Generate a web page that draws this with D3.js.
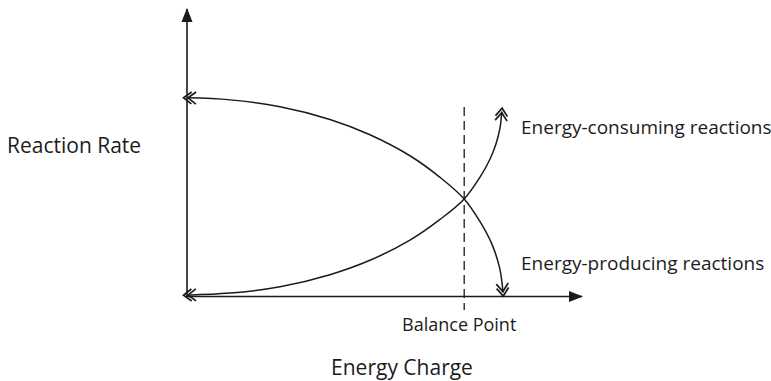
<!DOCTYPE html>
<html>
<head>
<meta charset="utf-8">
<script src="https://cdn.jsdelivr.net/npm/d3@7/dist/d3.min.js"></script>
<style>
  html, body { margin: 0; padding: 0; background: #fff; }
  svg { display: block; }
  text { font-family: "Open Sans", "Noto Sans", sans-serif; fill: #1c1c1c; }
</style>
</head>
<body>
<script>
// Energy charge (0..1) vs. relative reaction rate (0..1)
const producingCharge = [0, 0.109, 0.235, 0.361, 0.462, 0.563, 0.639, 0.7, 0.740, 0.770, 0.790, 0.798];
const producingRate   = [0.688, 0.681, 0.657, 0.613, 0.560, 0.487, 0.412, 0.337, 0.258, 0.180, 0.094, 0.012];

const consumingCharge = [0, 0.109, 0.235, 0.361, 0.462, 0.563, 0.639, 0.7, 0.740, 0.765, 0.780, 0.790, 0.795];
const consumingRate   = [0.003, 0.010, 0.032, 0.074, 0.124, 0.194, 0.266, 0.337, 0.413, 0.475, 0.527, 0.580, 0.640];

const balanceCharge = 0.7;
const balanceSpan = [0.656, -0.049];

const seriesLabels = ["Energy-consuming reactions", "Energy-producing reactions"];
const axisLabels = { y: "Reaction Rate", x: "Energy Charge" };
const balanceLabel = "Balance Point";

const W = 771, H = 381;
const ink = "#1b1b1b";

const x = d3.scaleLinear().domain([0, 1]).range([187, 583]);
const y = d3.scaleLinear().domain([0, 1]).range([296, 8]);

const svg = d3.select("body").append("svg")
  .attr("width", W).attr("height", H)
  .attr("viewBox", `0 0 ${W} ${H}`);

svg.append("rect").attr("width", W).attr("height", H).attr("fill", "#fff");

const defs = svg.append("defs");

// solid arrowhead for the axes
defs.append("marker")
  .attr("id", "axisHead")
  .attr("markerUnits", "userSpaceOnUse")
  .attr("viewBox", "-14 -7 16 14")
  .attr("refX", 0).attr("refY", 0)
  .attr("markerWidth", 16).attr("markerHeight", 14)
  .attr("orient", "auto")
  .append("path")
  .attr("d", "M1,0 L-13,-5.5 L-13,5.5 Z")
  .attr("fill", ink);

// double open chevron for the curve ends
defs.append("marker")
  .attr("id", "chevrons")
  .attr("markerUnits", "userSpaceOnUse")
  .attr("viewBox", "-14 -9 20 18")
  .attr("refX", 0).attr("refY", 0)
  .attr("markerWidth", 20).attr("markerHeight", 18)
  .attr("orient", "auto-start-reverse")
  .append("path")
  .attr("d", "M-4.5,-6 L3.5,0 L-4.5,6 M-9,-6 L-1,0 L-9,6")
  .attr("fill", "none")
  .attr("stroke", ink)
  .attr("stroke-width", 1.7);

// axes
const [x0, x1] = x.range();
const [yBottom, yTop] = y.range();

svg.append("line")
  .attr("x1", x0).attr("y1", yBottom + 1)
  .attr("x2", x0).attr("y2", yTop + 1)
  .attr("stroke", ink).attr("stroke-width", 1.6)
  .attr("marker-end", "url(#axisHead)");

svg.append("line")
  .attr("x1", x0 - 1).attr("y1", yBottom + 0.5)
  .attr("x2", x1 - 1).attr("y2", yBottom + 0.5)
  .attr("stroke", ink).attr("stroke-width", 1.6)
  .attr("marker-end", "url(#axisHead)");

// balance point
svg.append("line")
  .attr("x1", x(balanceCharge)).attr("y1", y(balanceSpan[0]))
  .attr("x2", x(balanceCharge)).attr("y2", y(balanceSpan[1]))
  .attr("stroke", ink).attr("stroke-width", 1.3)
  .attr("stroke-dasharray", "9,5");

// curves
const line = d3.line()
  .x(d => x(d[0]))
  .y(d => y(d[1]))
  .curve(d3.curveCatmullRom.alpha(0.5));

const producing = producingCharge.map((c, i) => [c, producingRate[i]]);
const consuming = consumingCharge.map((c, i) => [c, consumingRate[i]]);

[producing, consuming].forEach(pts => {
  svg.append("path")
    .attr("d", line(pts))
    .attr("fill", "none")
    .attr("stroke", ink)
    .attr("stroke-width", 1.5)
    .attr("marker-start", "url(#chevrons)")
    .attr("marker-end", "url(#chevrons)");
});

// labels
svg.append("text")
  .attr("x", 7).attr("y", 153)
  .attr("font-size", 21)
  .text(axisLabels.y);

svg.append("text")
  .attr("x", 402).attr("y", 375)
  .attr("text-anchor", "middle")
  .attr("font-size", 21)
  .text(axisLabels.x);

svg.append("text")
  .attr("x", x(balanceCharge) - 5).attr("y", 331)
  .attr("text-anchor", "middle")
  .attr("font-size", 18)
  .text(balanceLabel);

svg.append("text")
  .attr("x", 521).attr("y", 134)
  .attr("font-size", 19)
  .text(seriesLabels[0]);

svg.append("text")
  .attr("x", 521).attr("y", 270)
  .attr("font-size", 19)
  .text(seriesLabels[1]);
</script>
</body>
</html>
